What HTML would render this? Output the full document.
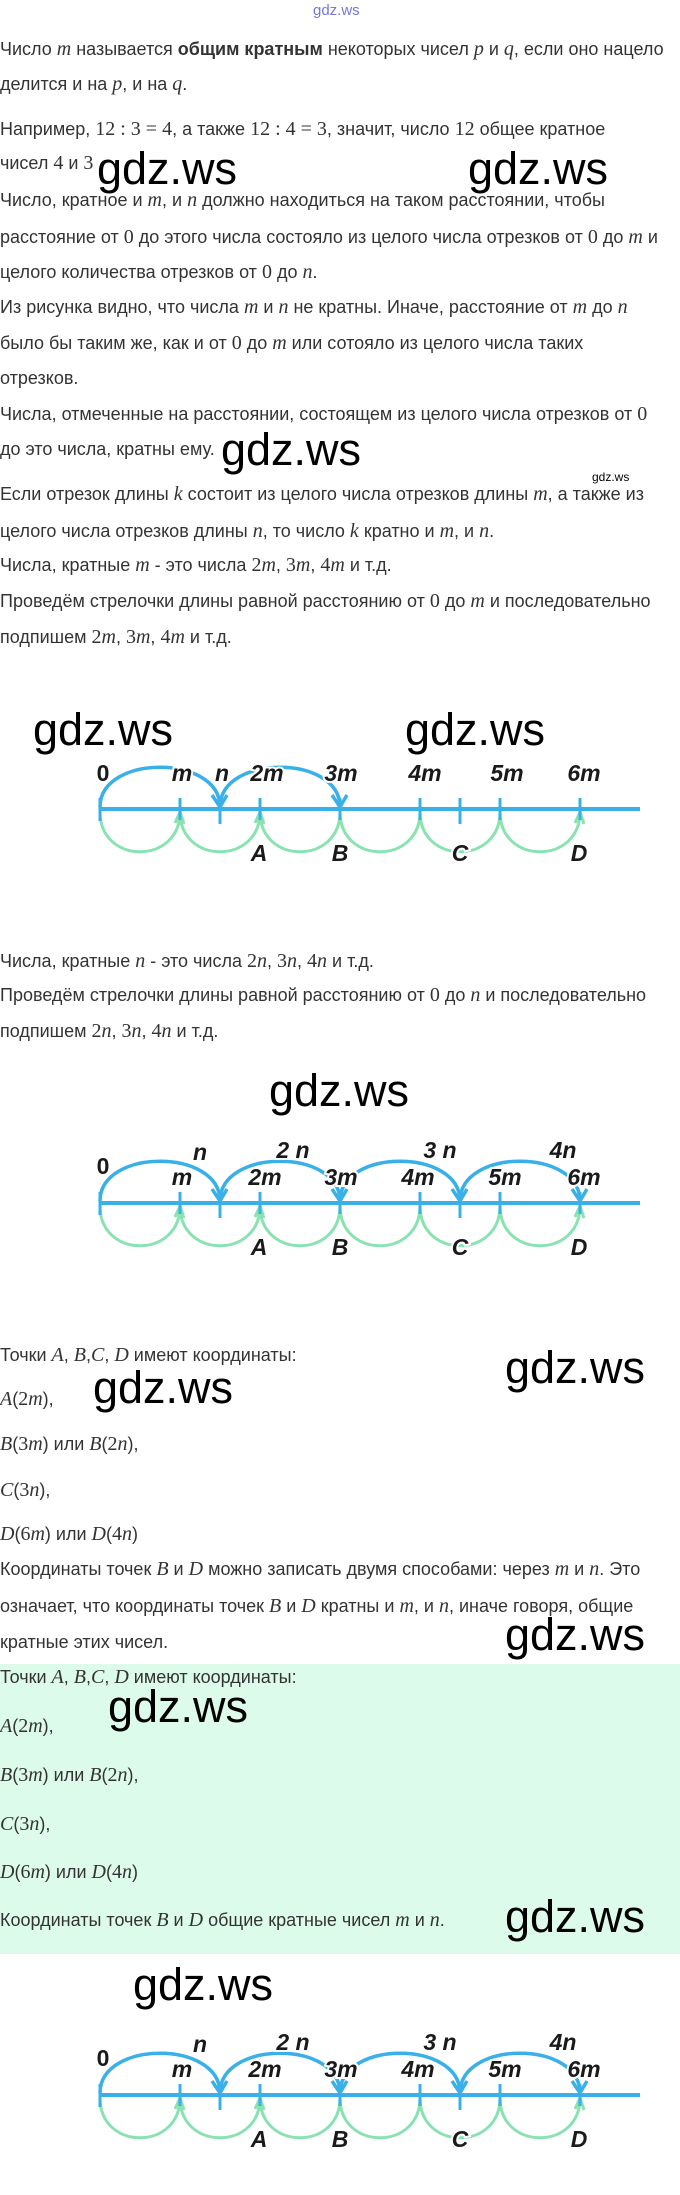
<!DOCTYPE html>
<html><head><meta charset="utf-8">
<style>
body{margin:0;background:#fff;}
#p{position:relative;width:680px;height:2195px;overflow:hidden;background:#fff;font-family:"Liberation Sans","DejaVu Sans",sans-serif;color:#333;}
.t{position:absolute;left:0;font-size:18px;line-height:20px;white-space:nowrap;}
.t i{font-family:"Liberation Serif",serif;font-size:20px;}
.t s{font-family:"Liberation Serif",serif;font-size:20px;text-decoration:none;}
.w{position:absolute;font-size:45px;line-height:45px;color:#000;white-space:nowrap;font-family:"Liberation Sans",sans-serif;}
svg text{font-family:"Liberation Sans",sans-serif;font-weight:bold;font-style:italic;font-size:23px;fill:#1a1a1a;paint-order:stroke;stroke:#fff;stroke-width:4px;}
</style></head><body><div id="p">
<div style="position:absolute;left:0;top:1664px;width:680px;height:290px;background:#dcfbea;"></div>
<div style="position:absolute;left:313px;top:2px;font-size:15px;color:#7777dd;">gdz.ws</div>

<div class="t" style="top:39px">Число <i>m</i> называется <b>общим кратным</b> некоторых чисел <i>p</i> и <i>q</i>, если оно нацело</div>
<div class="t" style="top:74px">делится и на <i>p</i>, и на <i>q</i>.</div>
<div class="t" style="top:119px">Например, <s>12 : 3 = 4</s>, а также <s>12 : 4 = 3</s>, значит, число <s>12</s> общее кратное</div>
<div class="t" style="top:153px">чисел <s>4</s> и <s>3</s></div>
<div class="t" style="top:190px">Число, кратное и <i>m</i>, и <i>n</i> должно находиться на таком расстоянии, чтобы</div>
<div class="t" style="top:227px">расстояние от <s>0</s> до этого числа состояло из целого числа отрезков от <s>0</s> до <i>m</i> и</div>
<div class="t" style="top:262px">целого количества отрезков от <s>0</s> до <i>n</i>.</div>
<div class="t" style="top:297px">Из рисунка видно, что числа <i>m</i> и <i>n</i> не кратны. Иначе, расстояние от <i>m</i> до <i>n</i></div>
<div class="t" style="top:333px">было бы таким же, как и от <s>0</s> до <i>m</i> или сотояло из целого числа таких</div>
<div class="t" style="top:368px">отрезков.</div>
<div class="t" style="top:404px">Числа, отмеченные на расстоянии, состоящем из целого числа отрезков от <s>0</s></div>
<div class="t" style="top:439px">до это числа, кратны ему.</div>
<div class="t" style="top:484px">Если отрезок длины <i>k</i> состоит из целого числа отрезков длины <i>m</i>, а также из</div>
<div class="t" style="top:521px">целого числа отрезков длины <i>n</i>, то число <i>k</i> кратно и <i>m</i>, и <i>n</i>.</div>
<div class="t" style="top:555px">Числа, кратные <i>m</i> - это числа <s>2</s><i>m</i>, <s>3</s><i>m</i>, <s>4</s><i>m</i> и т.д.</div>
<div class="t" style="top:591px">Проведём стрелочки длины равной расстоянию от <s>0</s> до <i>m</i> и последовательно</div>
<div class="t" style="top:627px">подпишем <s>2</s><i>m</i>, <s>3</s><i>m</i>, <s>4</s><i>m</i> и т.д.</div>

<div class="t" style="top:951px">Числа, кратные <i>n</i> - это числа <s>2</s><i>n</i>, <s>3</s><i>n</i>, <s>4</s><i>n</i> и т.д.</div>
<div class="t" style="top:985px">Проведём стрелочки длины равной расстоянию от <s>0</s> до <i>n</i> и последовательно</div>
<div class="t" style="top:1021px">подпишем <s>2</s><i>n</i>, <s>3</s><i>n</i>, <s>4</s><i>n</i> и т.д.</div>

<div class="t" style="top:1345px">Точки <i>A</i>, <i>B</i>,<i>C</i>, <i>D</i> имеют координаты:</div>
<div class="t" style="top:1389px"><i>A</i>(<s>2</s><i>m</i>),</div>
<div class="t" style="top:1434px"><i>B</i>(<s>3</s><i>m</i>) или <i>B</i>(<s>2</s><i>n</i>),</div>
<div class="t" style="top:1480px"><i>C</i>(<s>3</s><i>n</i>),</div>
<div class="t" style="top:1524px"><i>D</i>(<s>6</s><i>m</i>) или <i>D</i>(<s>4</s><i>n</i>)</div>
<div class="t" style="top:1559px">Координаты точек <i>B</i> и <i>D</i> можно записать двумя способами: через <i>m</i> и <i>n</i>. Это</div>
<div class="t" style="top:1596px">означает, что координаты точек <i>B</i> и <i>D</i> кратны и <i>m</i>, и <i>n</i>, иначе говоря, общие</div>
<div class="t" style="top:1632px">кратные этих чисел.</div>

<div class="t" style="top:1667px">Точки <i>A</i>, <i>B</i>,<i>C</i>, <i>D</i> имеют координаты:</div>
<div class="t" style="top:1716px"><i>A</i>(<s>2</s><i>m</i>),</div>
<div class="t" style="top:1765px"><i>B</i>(<s>3</s><i>m</i>) или <i>B</i>(<s>2</s><i>n</i>),</div>
<div class="t" style="top:1814px"><i>C</i>(<s>3</s><i>n</i>),</div>
<div class="t" style="top:1862px"><i>D</i>(<s>6</s><i>m</i>) или <i>D</i>(<s>4</s><i>n</i>)</div>
<div class="t" style="top:1910px">Координаты точек <i>B</i> и <i>D</i> общие кратные чисел <i>m</i> и <i>n</i>.</div>

<div class="w" style="left:97px;top:146px">gdz.ws</div>
<div class="w" style="left:468px;top:146px">gdz.ws</div>
<div class="w" style="left:221px;top:427px">gdz.ws</div>
<div style="position:absolute;left:592px;top:470px;font-size:12px;color:#000;">gdz.ws</div>
<div class="w" style="left:33px;top:707px">gdz.ws</div>
<div class="w" style="left:405px;top:707px">gdz.ws</div>
<div class="w" style="left:269px;top:1068px">gdz.ws</div>
<div class="w" style="left:505px;top:1345px">gdz.ws</div>
<div class="w" style="left:93px;top:1365px">gdz.ws</div>
<div class="w" style="left:505px;top:1612px">gdz.ws</div>
<div class="w" style="left:108px;top:1684px">gdz.ws</div>
<div class="w" style="left:505px;top:1894px">gdz.ws</div>
<div class="w" style="left:133px;top:1962px">gdz.ws</div>

<svg style="position:absolute;left:0;top:0" width="680" height="2195" viewBox="0 0 680 2195">
<defs>
<g id="base">
<path d="M100,3 C100,56 180,56 180,3 M180,3 C180,56 260,56 260,3 M260,3 C260,56 340,56 340,3 M340,3 C340,56 420,56 420,3 M420,3 C420,56 500,56 500,3 M500,3 C500,56 580,56 580,3" fill="none" stroke="#88e3b0" stroke-width="3"/>
<path d="M175,14 L180,3 L184,15 M255,14 L260,3 L264,15 M575,14 L580,3 L584,15" fill="none" stroke="#88e3b0" stroke-width="3"/>
<line x1="100" y1="0" x2="640" y2="0" stroke="#3ab0e8" stroke-width="4"/>
<path d="M100,-11 V12 M180,-11 V11 M260,-11 V11 M340,-11 V11 M420,-11 V11 M500,-11 V11 M580,-11 V11 M220,-11 V15 M460,-11 V15" stroke="#3ab0e8" stroke-width="3"/>
<text x="259" y="52" text-anchor="middle">A</text>
<text x="340" y="52" text-anchor="middle">B</text>
<text x="460" y="52" text-anchor="middle">C</text>
<text x="579" y="52" text-anchor="middle">D</text>
</g>
<path id="bl2" d="M100,-2 C100,-55 220,-55 220,-2 M220,-2 C220,-55 340,-55 340,-2" fill="none" stroke="#3ab0e8" stroke-width="3.5"/>
<path id="bl4" d="M340,-2 C340,-55 460,-55 460,-2 M460,-2 C460,-55 580,-55 580,-2" fill="none" stroke="#3ab0e8" stroke-width="3.5"/>
<path id="ar2" d="M212,-14 L220,-2 L227,-14 M332,-14 L340,-2 L347,-14" fill="none" stroke="#3ab0e8" stroke-width="3.5"/>
<path id="ar4" d="M452,-14 L460,-2 L467,-14 M572,-14 L580,-2 L587,-14" fill="none" stroke="#3ab0e8" stroke-width="3.5"/>
</defs>

<g transform="translate(0,809)">
<use href="#base"/><use href="#bl2"/><use href="#ar2"/>
<text x="103" y="-28" text-anchor="middle" style="font-style:normal">0</text>
<text x="182" y="-28" text-anchor="middle">m</text>
<text x="222" y="-28" text-anchor="middle">n</text>
<text x="267" y="-28" text-anchor="middle">2m</text>
<text x="341" y="-28" text-anchor="middle">3m</text>
<text x="425" y="-28" text-anchor="middle">4m</text>
<text x="507" y="-28" text-anchor="middle">5m</text>
<text x="584" y="-28" text-anchor="middle">6m</text>
</g>

<g transform="translate(0,1203)">
<use href="#base"/><use href="#bl2"/><use href="#bl4"/><use href="#ar2"/><use href="#ar4"/>
<text x="103" y="-29" text-anchor="middle" style="font-style:normal">0</text>
<text x="182" y="-18" text-anchor="middle">m</text>
<text x="265" y="-18" text-anchor="middle">2m</text>
<text x="341" y="-18" text-anchor="middle">3m</text>
<text x="418" y="-18" text-anchor="middle">4m</text>
<text x="505" y="-18" text-anchor="middle">5m</text>
<text x="584" y="-18" text-anchor="middle">6m</text>
<text x="200" y="-43" text-anchor="middle">n</text>
<text x="293" y="-45" text-anchor="middle">2 n</text>
<text x="440" y="-45" text-anchor="middle">3 n</text>
<text x="563" y="-45" text-anchor="middle">4n</text>
</g>

<g transform="translate(0,2095)">
<use href="#base"/><use href="#bl2"/><use href="#bl4"/><use href="#ar2"/><use href="#ar4"/>
<text x="103" y="-29" text-anchor="middle" style="font-style:normal">0</text>
<text x="182" y="-18" text-anchor="middle">m</text>
<text x="265" y="-18" text-anchor="middle">2m</text>
<text x="341" y="-18" text-anchor="middle">3m</text>
<text x="418" y="-18" text-anchor="middle">4m</text>
<text x="505" y="-18" text-anchor="middle">5m</text>
<text x="584" y="-18" text-anchor="middle">6m</text>
<text x="200" y="-43" text-anchor="middle">n</text>
<text x="293" y="-45" text-anchor="middle">2 n</text>
<text x="440" y="-45" text-anchor="middle">3 n</text>
<text x="563" y="-45" text-anchor="middle">4n</text>
</g>
</svg>
</div></body></html>
